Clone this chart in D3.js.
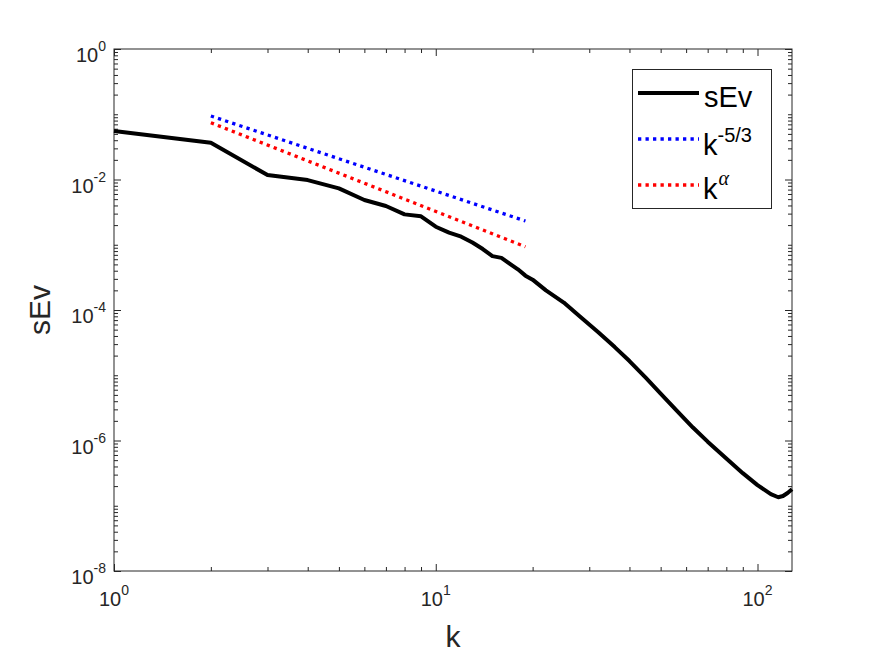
<!DOCTYPE html>
<html>
<head>
<meta charset="utf-8">
<script src="https://cdn.jsdelivr.net/npm/d3@7"></script>
<style>
    body { margin: 0; background: #fff; }
    svg { display: block; font-family: "Liberation Sans", Arial, sans-serif; }
</style>
</head>
<body>
<div id="chart"></div>
<script>
// wavenumbers and spectrum
var kVals = [1, 2, 3, 4, 5, 6, 7, 8, 9, 10, 11, 12, 13, 14, 15, 16, 17, 18, 19, 20,
    22, 25, 28, 32, 36, 40, 45, 50, 56, 63, 70, 80, 90, 100, 110, 116, 120, 124, 128];
var sEvVals = [0.0554, 0.0366, 0.0117, 0.0098, 0.0073, 0.00485, 0.00393, 0.00292, 0.00273, 0.00189,
    0.00153, 0.00133, 0.00108, 0.00086, 0.00067, 0.00063, 0.00051, 0.00042, 0.000336, 0.000292,
    2.0e-4, 1.3e-4, 8.0e-5, 4.55e-5, 2.7e-5, 1.65e-5, 9.1e-6, 5.25e-6, 2.9e-6, 1.58e-6,
    9.6e-7, 5.3e-7, 3.16e-7, 2.07e-7, 1.51e-7, 1.35e-7, 1.41e-7, 1.57e-7, 1.79e-7];

// reference slopes (straight in log-log, so the end points are enough)
var refK = [2, 19];
var kMinus53 = [0.094, 0.00231];
var kAlpha = [0.0743, 0.000933];

var xMajor = [1, 10, 100];
var xExp = ["0", "1", "2"];
var yMajor = [1, 1e-2, 1e-4, 1e-6, 1e-8];
var yExp = ["0", "-2", "-4", "-6", "-8"];

var svgWidth = 875;
var svgHeight = 656;

var margin =
{
    top: 49,
    right: 83,
    bottom: 85,
    left: 114
};

var width = svgWidth - margin.left - margin.right;
var height = svgHeight - margin.top - margin.bottom;
var axisColor = "#262626";

var svg = d3
    .select("#chart")
    .append("svg")
    .attr("width", svgWidth)
    .attr("height", svgHeight);

var chartGroup = svg
    .append("g")
    .attr("transform", `translate(${margin.left}, ${margin.top})`);

var xScale = d3.scaleLog()
    .domain([1, 128])
    .range([0, width]);

var yScale = d3.scaleLog()
    .domain([1e-8, 1])
    .range([height, 0]);

// minor tick positions
var xMinor = [];
[1, 10, 100].forEach(function (d)
{
    for (var m = 2; m <= 9; m++)
    {
        if (d * m <= 128) xMinor.push(d * m);
    }
});
var yMinor = [];
for (var e = -8; e < 0; e++)
{
    for (var m = 1; m <= 9; m++)
    {
        if (m === 1 && e % 2 === 0) continue;
        yMinor.push(m * Math.pow(10, e));
    }
}

function drawAxis(axisFn, scale, values, size, transform)
{
    var g = chartGroup.append("g")
        .attr("transform", transform)
        .call(axisFn(scale).tickValues(values).tickSize(-size).tickFormat(""));
    g.select(".domain").remove();
    g.selectAll("line").attr("stroke", axisColor);
    return g;
}

drawAxis(d3.axisBottom, xScale, xMajor, 7, `translate(0, ${height})`);
drawAxis(d3.axisBottom, xScale, xMinor, 4, `translate(0, ${height})`);
drawAxis(d3.axisTop, xScale, xMajor, 7, "translate(0, 0)");
drawAxis(d3.axisTop, xScale, xMinor, 4, "translate(0, 0)");
drawAxis(d3.axisLeft, yScale, yMajor, 7, "translate(0, 0)");
drawAxis(d3.axisLeft, yScale, yMinor, 4, "translate(0, 0)");
drawAxis(d3.axisRight, yScale, yMajor, 7, `translate(${width}, 0)`);
drawAxis(d3.axisRight, yScale, yMinor, 4, `translate(${width}, 0)`);

chartGroup.append("rect")
    .attr("x", 0)
    .attr("y", 0)
    .attr("width", width)
    .attr("height", height)
    .attr("fill", "none")
    .attr("stroke", axisColor)
    .attr("stroke-width", 1);

// tick labels with superscript exponents
var xLabels = chartGroup.append("g")
    .selectAll("text")
    .data(xMajor)
    .enter()
    .append("text")
    .attr("x", d => xScale(d))
    .attr("y", height + 35)
    .attr("text-anchor", "middle")
    .attr("fill", axisColor)
    .style("font-size", "20px");
xLabels.append("tspan").text("10");
xLabels.append("tspan")
    .attr("dy", -11)
    .style("font-size", "14px")
    .text((d, i) => xExp[i]);

var yLabels = chartGroup.append("g")
    .selectAll("text")
    .data(yMajor)
    .enter()
    .append("text")
    .attr("x", -8)
    .attr("y", d => yScale(d) + 13)
    .attr("text-anchor", "end")
    .attr("fill", axisColor)
    .style("font-size", "20px");
yLabels.append("tspan").text("10");
yLabels.append("tspan")
    .attr("dy", -11)
    .style("font-size", "14px")
    .text((d, i) => yExp[i]);

chartGroup.append("text")
    .attr("x", width / 2)
    .attr("y", height + 76)
    .attr("text-anchor", "middle")
    .attr("fill", axisColor)
    .style("font-size", "30px")
    .text("k");

chartGroup.append("text")
    .attr("transform", "rotate(-90)")
    .attr("x", 0 - (height / 2))
    .attr("y", -64)
    .attr("text-anchor", "middle")
    .attr("fill", axisColor)
    .style("font-size", "30px")
    .text("sEv");

// series
var line = d3.line()
    .x(d => xScale(d[0]))
    .y(d => yScale(d[1]));

chartGroup.append("path")
    .datum(d3.zip(kVals, sEvVals))
    .attr("d", line)
    .attr("fill", "none")
    .attr("stroke", "#000")
    .attr("stroke-width", 4)
    .attr("stroke-linejoin", "round");

chartGroup.append("path")
    .datum(d3.zip(refK, kMinus53))
    .attr("d", line)
    .attr("fill", "none")
    .attr("stroke", "#0000ff")
    .attr("stroke-width", 3.3)
    .attr("stroke-dasharray", "3.3,4.2");

chartGroup.append("path")
    .datum(d3.zip(refK, kAlpha))
    .attr("d", line)
    .attr("fill", "none")
    .attr("stroke", "#ff0000")
    .attr("stroke-width", 3.3)
    .attr("stroke-dasharray", "3.3,4.2");

// legend
var legend = svg.append("g");

legend.append("rect")
    .attr("x", 632.5)
    .attr("y", 69.5)
    .attr("width", 139)
    .attr("height", 139)
    .attr("fill", "#fff")
    .attr("stroke", axisColor)
    .attr("stroke-width", 1);

var legendRows = [
    { color: "#000", dash: null, width: 4, y: 93, off: 13.5 },
    { color: "#0000ff", dash: "3.3,4.2", width: 3.3, y: 139, off: 16 },
    { color: "#ff0000", dash: "3.3,4.2", width: 3.3, y: 185, off: 13.5 }
];

legendRows.forEach(function (r)
{
    legend.append("line")
        .attr("x1", 638)
        .attr("x2", 699)
        .attr("y1", r.y)
        .attr("y2", r.y)
        .attr("stroke", r.color)
        .attr("stroke-width", r.width)
        .attr("stroke-dasharray", r.dash);
});

legend.append("text")
    .attr("x", 704)
    .attr("y", legendRows[0].y + legendRows[0].off)
    .style("font-size", "29px")
    .text("sEv");

var t2 = legend.append("text")
    .attr("x", 703)
    .attr("y", legendRows[1].y + legendRows[1].off)
    .style("font-size", "29px");
t2.append("tspan").text("k");
t2.append("tspan")
    .attr("dy", -13)
    .style("font-size", "20px")
    .text("-5/3");

var t3 = legend.append("text")
    .attr("x", 703)
    .attr("y", legendRows[2].y + legendRows[2].off)
    .style("font-size", "29px");
t3.append("tspan").text("k");
t3.append("tspan")
    .attr("dy", -14)
    .attr("dx", 1)
    .style("font-size", "20px")
    .style("font-family", "'Liberation Serif', serif")
    .style("font-style", "italic")
    .text("\u03b1");
</script>
</body>
</html>
